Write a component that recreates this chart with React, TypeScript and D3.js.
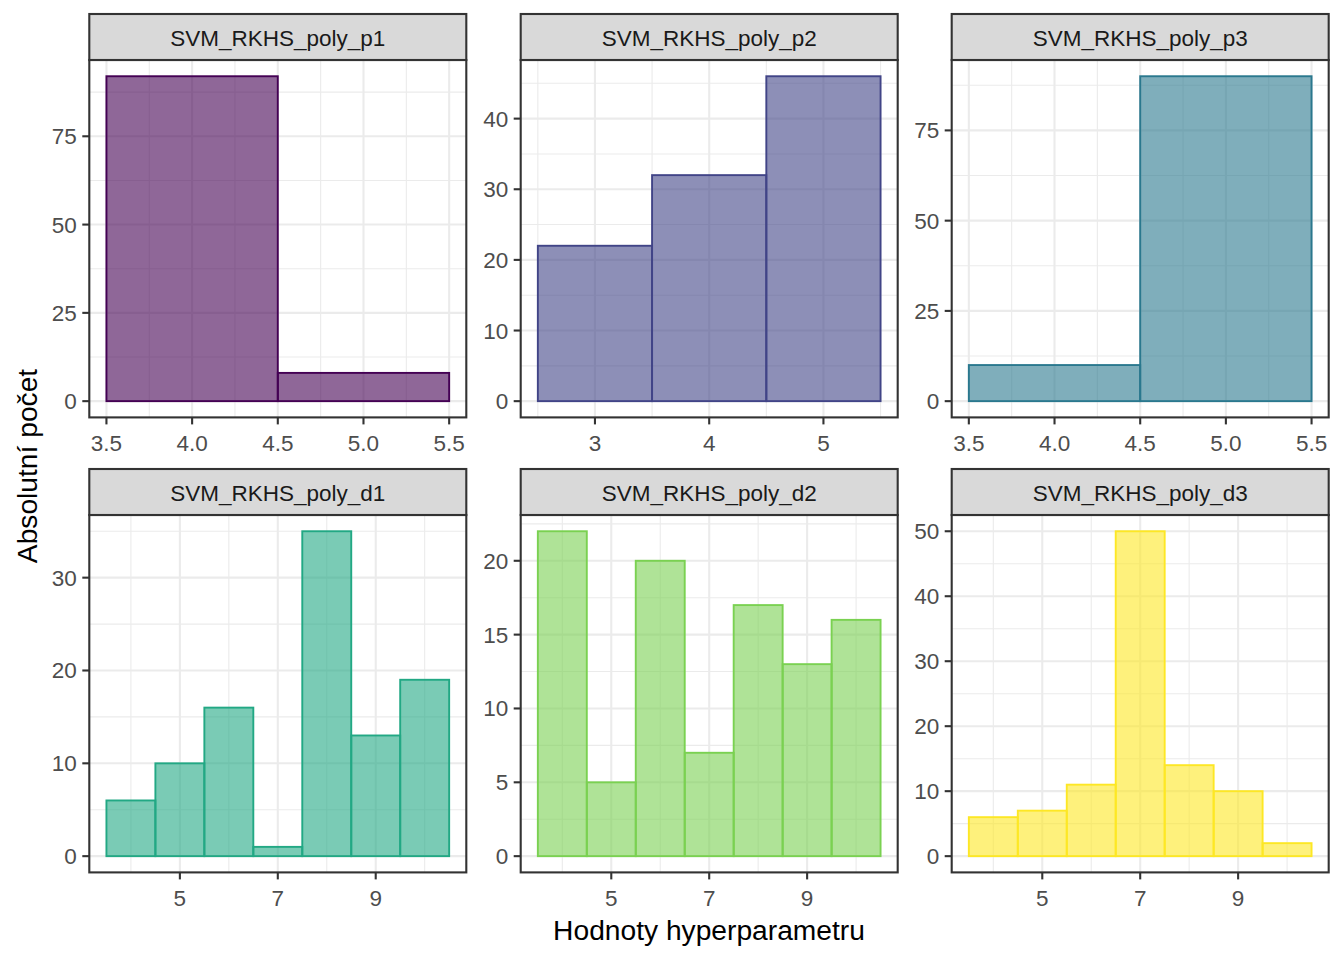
import React from "react";
import * as d3 from "d3";

// ---------- data ----------
const panelNames = [
  "SVM_RKHS_poly_p1",
  "SVM_RKHS_poly_p2",
  "SVM_RKHS_poly_p3",
  "SVM_RKHS_poly_d1",
  "SVM_RKHS_poly_d2",
  "SVM_RKHS_poly_d3",
];
const panelColors = ["#440154", "#414487", "#2A788E", "#22A884", "#7AD151", "#FDE725"];

const p1Centers = [4, 5];
const p1Counts = [92, 8];
const p2Centers = [3, 4, 5];
const p2Counts = [22, 32, 46];
const p3Centers = [4, 5];
const p3Counts = [10, 90];
const dCenters = [4, 5, 6, 7, 8, 9, 10];
const d1Counts = [6, 10, 16, 1, 35, 13, 19];
const d2Counts = [22, 5, 20, 7, 17, 13, 16];
const d3Counts = [6, 7, 11, 50, 14, 10, 2];

const xTicksHalf = [3.5, 4.0, 4.5, 5.0, 5.5];
const xTicksP2 = [3, 4, 5];
const xTicksD = [5, 7, 9];

const yTicksP1 = [0, 25, 50, 75];
const yTicksP2 = [0, 10, 20, 30, 40];
const yTicksP3 = [0, 25, 50, 75];
const yTicksD1 = [0, 10, 20, 30];
const yTicksD2 = [0, 5, 10, 15, 20];
const yTicksD3 = [0, 10, 20, 30, 40, 50];

const panels = [
  { centers: p1Centers, counts: p1Counts, xTicks: xTicksHalf, yTicks: yTicksP1, fmt: (v: number) => v.toFixed(1) },
  { centers: p2Centers, counts: p2Counts, xTicks: xTicksP2, yTicks: yTicksP2, fmt: (v: number) => String(v) },
  { centers: p3Centers, counts: p3Counts, xTicks: xTicksHalf, yTicks: yTicksP3, fmt: (v: number) => v.toFixed(1) },
  { centers: dCenters, counts: d1Counts, xTicks: xTicksD, yTicks: yTicksD1, fmt: (v: number) => String(v) },
  { centers: dCenters, counts: d2Counts, xTicks: xTicksD, yTicks: yTicksD2, fmt: (v: number) => String(v) },
  { centers: dCenters, counts: d3Counts, xTicks: xTicksD, yTicks: yTicksD3, fmt: (v: number) => String(v) },
];

// ---------- layout ----------
const W = 1344;
const H = 960;
const colLeft = [89.3, 520.7, 951.7];
const panelW = 377;
const rowStripTop = [14, 469];
const stripH = 46;
const plotH = 357.4;
const FONT = "'Liberation Sans', Arial, Helvetica, sans-serif";
const tickFont = 22.5;
const border = "#333333";
const lw = 2.1;

function minorBreaks(ticks: number[], lo: number, hi: number) {
  const step = ticks[1] - ticks[0];
  const all = [ticks[0] - step, ...ticks, ticks[ticks.length - 1] + step];
  const out: number[] = [];
  for (let i = 0; i < all.length - 1; i++) {
    const m = (all[i] + all[i + 1]) / 2;
    if (m >= lo && m <= hi) out.push(m);
  }
  return out;
}

function Panel({ idx }: { idx: number }) {
  const p = panels[idx];
  const col = idx % 3;
  const row = Math.floor(idx / 3);
  const x0 = colLeft[col];
  const stripTop = rowStripTop[row];
  const top = stripTop + stripH;
  const bottom = top + plotH;
  const color = panelColors[idx];
  const binW = p.centers[1] - p.centers[0];
  const xmin = p.centers[0] - binW / 2;
  const xmax = p.centers[p.centers.length - 1] + binW / 2;
  const xpad = (xmax - xmin) * 0.05;
  const x = d3.scaleLinear().domain([xmin - xpad, xmax + xpad]).range([x0, x0 + panelW]);
  const ymax = d3.max(p.counts) as number;
  const y = d3.scaleLinear().domain([-0.05 * ymax, 1.05 * ymax]).range([bottom, top]);
  const xd = x.domain();
  const yd = y.domain();
  const xMinor = minorBreaks(p.xTicks, xd[0], xd[1]);
  const yMinor = minorBreaks(p.yTicks, yd[0], yd[1]);

  return (
    <g>
      <rect x={x0} y={top} width={panelW} height={plotH} fill="#FFFFFF" />
      {xMinor.map((v) => (
        <line key={"xm" + v} x1={x(v)} x2={x(v)} y1={top} y2={bottom} stroke="#EBEBEB" strokeWidth={1.1} />
      ))}
      {yMinor.map((v) => (
        <line key={"ym" + v} x1={x0} x2={x0 + panelW} y1={y(v)} y2={y(v)} stroke="#EBEBEB" strokeWidth={1.1} />
      ))}
      {p.xTicks.map((v) => (
        <line key={"xM" + v} x1={x(v)} x2={x(v)} y1={top} y2={bottom} stroke="#EBEBEB" strokeWidth={2.1} />
      ))}
      {p.yTicks.map((v) => (
        <line key={"yM" + v} x1={x0} x2={x0 + panelW} y1={y(v)} y2={y(v)} stroke="#EBEBEB" strokeWidth={2.1} />
      ))}
      {p.centers.map((c, i) => (
        <rect
          key={"b" + i}
          x={x(c - binW / 2)}
          y={y(p.counts[i])}
          width={x(c + binW / 2) - x(c - binW / 2)}
          height={y(0) - y(p.counts[i])}
          fill={color}
          fillOpacity={0.6}
          stroke={color}
          strokeWidth={1.9}
        />
      ))}
      <rect x={x0} y={top} width={panelW} height={plotH} fill="none" stroke={border} strokeWidth={lw} />
      <rect x={x0} y={stripTop} width={panelW} height={stripH} fill="#D9D9D9" stroke={border} strokeWidth={lw} />
      <text
        x={x0 + panelW / 2}
        y={stripTop + stripH / 2 + 8.5}
        textAnchor="middle"
        fontFamily={FONT}
        fontSize={tickFont}
        fill="#1A1A1A"
      >
        {panelNames[idx]}
      </text>
      {p.xTicks.map((v) => (
        <g key={"xt" + v}>
          <line x1={x(v)} x2={x(v)} y1={bottom} y2={bottom + 7} stroke={border} strokeWidth={lw} />
          <text x={x(v)} y={bottom + 33.5} textAnchor="middle" fontFamily={FONT} fontSize={tickFont} fill="#4D4D4D">
            {p.fmt(v)}
          </text>
        </g>
      ))}
      {p.yTicks.map((v) => (
        <g key={"yt" + v}>
          <line x1={x0 - 7} x2={x0} y1={y(v)} y2={y(v)} stroke={border} strokeWidth={lw} />
          <text
            x={x0 - 12.5}
            y={y(v) + 8}
            textAnchor="end"
            fontFamily={FONT}
            fontSize={tickFont}
            fill="#4D4D4D"
          >
            {String(v)}
          </text>
        </g>
      ))}
    </g>
  );
}

export default function App() {
  return (
    <svg width={W} height={H} viewBox={`0 0 ${W} ${H}`} style={{ display: "block", position: "absolute", left: 0, top: 0 }}>
      <rect x={0} y={0} width={W} height={H} fill="#FFFFFF" />
      {panelNames.map((_, i) => (
        <Panel key={i} idx={i} />
      ))}
      <text x={709} y={940} textAnchor="middle" fontFamily={FONT} fontSize={28.2} fill="#000000">
        Hodnoty hyperparametru
      </text>
      <text
        transform="translate(37,466) rotate(-90)"
        textAnchor="middle"
        fontFamily={FONT}
        fontSize={28.2}
        fill="#000000"
      >
        Absolutní počet
      </text>
    </svg>
  );
}
